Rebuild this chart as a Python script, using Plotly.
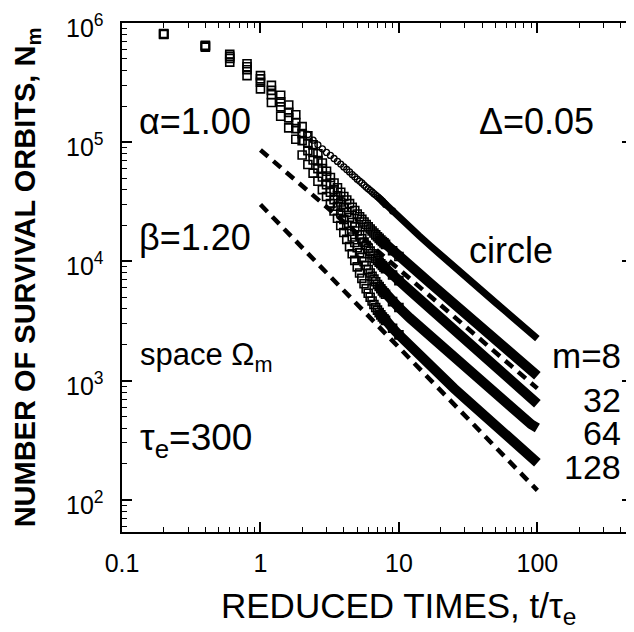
import math
import plotly.graph_objects as go

# ---- data ----
T = [0.2, 0.4, 0.6, 0.8, 1.0, 1.2, 1.4, 1.6, 1.8, 2.0,
     2.2, 2.4, 2.6, 2.8, 3.0, 3.2, 3.4, 3.6, 3.8, 4.0,
     4.2, 4.4, 4.6, 4.8, 5.0, 5.2, 5.4, 5.6, 5.8, 6.0,
     6.2, 6.4, 6.6, 6.8, 7.0, 7.2, 7.4, 7.6, 7.8, 8.0,
     9, 10, 12, 14, 17, 20, 25, 30, 40, 50, 60, 70, 80, 90, 100]

# number of survival orbits, in thousands
CIRCLE = [None, None, None, None, None, None, None, None, None, None,
          116, 104, 95, 88, 82, 77.5, 73, 69, 65.5, 62,
          59, 56.3, 53.5, 51.2, 49, 47.2, 45.5, 43.7, 42, 40.7,
          39.5, 38.2, 37, 36, 35, 34, 33, 32, 31, 30,
          26.5, 23.5, 19.3, 16.4, 13.4, 11.3, 9.0, 7.5, 5.6, 4.5, 3.75, 3.2, 2.8, 2.5, 2.25]
M8 = [815, 650, 545, 455, 362, 300, 248, 205, 170, 135,
      113, 95, 80, 67, 57, 50.5, 45.5, 41.5, 38, 35,
      32.7, 30.5, 28.5, 26.7, 25, 23.7, 22.5, 21.4, 20.4, 19.5,
      18.7, 18.0, 17.3, 16.7, 16.1, 15.6, 15.1, 14.7, 14.3, 13.9,
      12.3, 11.0, 9.2, 7.9, 6.5, 5.5, 4.4, 3.65, 2.75, 2.2, 1.84, 1.58, 1.38, 1.22, 1.1]
M32 = [810, 645, 525, 430, 340, 272, 218, 178, 146, 118,
       98, 82, 70, 60, 52, 45.5, 40, 35.5, 31.5, 28.5,
       25.8, 23.4, 21.2, 19.5, 18.0, 16.7, 15.5, 14.5, 13.6, 12.9,
       12.2, 11.6, 11.1, 10.6, 10.2, 9.85, 9.55, 9.25, 8.95, 8.7,
       7.7, 6.9, 5.7, 4.85, 3.95, 3.35, 2.65, 2.2, 1.64, 1.3, 1.08, 0.92, 0.80, 0.71, 0.64]
M64 = [805, 638, 505, 405, 318, 250, 198, 160, 130, 103,
       85, 71, 60, 51, 44, 38, 33, 29, 25.5, 22.5,
       20, 17.9, 16, 14.4, 13, 11.8, 10.8, 9.95, 9.2, 8.55,
       8.0, 7.5, 7.1, 6.75, 6.4, 6.15, 5.9, 5.65, 5.45, 5.3,
       4.6, 4.1, 3.35, 2.85, 2.33, 1.97, 1.57, 1.3, 0.97, 0.77, 0.64, 0.55, 0.48, 0.43, 0.40]
M128 = [800, 628, 470, 362, 280, 215, 165, 132, 106, 78,
        65, 55, 47, 40, 35, 30.5, 26.5, 23, 20, 17.5,
        15.3, 13.3, 11.6, 10.2, 9.0, 8.0, 7.2, 6.5, 5.9, 5.4,
        5.0, 4.65, 4.35, 4.1, 3.9, 3.72, 3.56, 3.42, 3.3, 3.2,
        2.75, 2.42, 1.95, 1.64, 1.32, 1.1, 0.86, 0.71, 0.52, 0.41, 0.335, 0.285, 0.25, 0.225, 0.205]

# power-law guides: t^-alpha (alpha=1.00) and t^-beta (beta=1.20)
ALPHA_T = [1, 100]
ALPHA_N = [86000, 860]
BETA_T = [1, 100]
BETA_N = [30000, 120]

X_TICKS = [0.1, 1, 10, 100]
X_TICKTEXT = ["0.1", "1", "10", "100"]
Y_TICKS = [1e2, 1e3, 1e4, 1e5, 1e6]
Y_TICKTEXT = ["10<sup>2</sup>", "10<sup>3</sup>", "10<sup>4</sup>", "10<sup>5</sup>", "10<sup>6</sup>"]

FONT = "Liberation Sans, Arial, sans-serif"

fig = go.Figure()


def pick(vals, lo, hi):
    pts = [(t, v * 1000) for t, v in zip(T, vals) if v is not None and lo <= t <= hi]
    return [p[0] for p in pts], [p[1] for p in pts]


for series in [M128, M64, M32, M8]:
    lt, ly = pick(series, 7.0, 1000)
    mt, my = pick(series, 0, 10)
    fig.add_trace(go.Scatter(x=lt, y=ly, mode="lines",
                             line=dict(color="black", width=10),
                             hoverinfo="skip", showlegend=False))
    fig.add_trace(go.Scatter(x=mt, y=my, mode="markers",
                             marker=dict(symbol="square-open", size=8, color="black",
                                         line=dict(width=1.6, color="black")),
                             showlegend=False))

clt, cly = pick(CIRCLE, 7.0, 1000)
cmt, cmy = pick(CIRCLE, 0, 9)
fig.add_trace(go.Scatter(x=clt, y=cly, mode="lines", line=dict(color="black", width=7),
                         showlegend=False))
fig.add_trace(go.Scatter(x=cmt, y=cmy, mode="markers",
                         marker=dict(symbol="circle-open", size=6, color="black",
                                     line=dict(width=1.3, color="black")),
                         showlegend=False))

for tx, ny in [(ALPHA_T, ALPHA_N), (BETA_T, BETA_N)]:
    fig.add_trace(go.Scatter(x=tx, y=ny, mode="lines",
                             line=dict(color="black", width=4.5, dash="10px,7px"),
                             showlegend=False))

# The page body adds an 8px offset; the figure is sized so that
# screen pixel = figure pixel + 8.
OFF = 8
W, H = 634 - OFF, 632 - OFF
# plot-area edges in screen pixels
L, R, TOP, BOT = 122, 634, 23, 532


def px(x):
    return (x - L) / (R - L)


def py(y):
    return (BOT - y) / (BOT - TOP)


def label(text, x, y, xanchor="center", size=36):
    fig.add_annotation(text=text, x=px(x), y=py(y), xref="paper", yref="paper",
                       xanchor=xanchor, yanchor="middle", showarrow=False,
                       font=dict(family=FONT, size=size, color="black"))


label("α=1.00", 195, 122)
label("Δ=0.05", 538, 122)
label("β=1.20", 195, 238)
label("circle", 513, 250)
label("space Ω<sub>m</sub>", 138, 357, xanchor="left", size=31)
label("τ<sub>e</sub>=300", 138, 440, xanchor="left", size=37)
label("m=8", 625, 355, xanchor="right", size=35)
label("32", 625, 400, xanchor="right", size=34)
label("64", 625, 433, xanchor="right", size=34)
label("128", 625, 467, xanchor="right", size=34)

# y tick labels placed at the axis' own tick values
for v, txt in zip(Y_TICKS, Y_TICKTEXT):
    fig.add_annotation(text=txt, x=px(106), xref="paper", y=math.log10(v), yref="y",
                       xanchor="right", yanchor="middle", yshift=-3, showarrow=False,
                       font=dict(family=FONT, size=25, color="black"))

fig.add_annotation(text="REDUCED TIMES, t/τ<sub>e</sub>", x=px(400), y=py(608),
                   xref="paper", yref="paper", xanchor="center", yanchor="middle",
                   showarrow=False, font=dict(family=FONT, size=35, color="black"))
fig.add_annotation(text="<b>NUMBER OF SURVIVAL ORBITS, N<sub>m</sub></b>", x=px(27), y=py(277),
                   xref="paper", yref="paper", xanchor="center", yanchor="middle",
                   textangle=-90, showarrow=False,
                   font=dict(family=FONT, size=29, color="black"))

axis_common = dict(type="log", showline=True, linecolor="black", linewidth=2,
                   mirror="allticks", ticks="inside", ticklen=10, tickwidth=1.5,
                   tickcolor="black", showgrid=False, zeroline=False,
                   tickfont=dict(family=FONT, size=25, color="black"),
                   minor=dict(ticks="inside", ticklen=5, tickwidth=1.3,
                              tickcolor="black", dtick="D1", showgrid=False))

fig.update_layout(
    width=W, height=H,
    margin=dict(l=L - OFF, r=634 - R, t=TOP - OFF, b=632 - BOT),
    paper_bgcolor="white", plot_bgcolor="white",
    showlegend=False,
    xaxis=dict(range=[-1, -1 + (R - L) / 139.0], tickvals=X_TICKS, ticktext=X_TICKTEXT,
               ticklabelstandoff=8, **axis_common),
    yaxis=dict(range=[6 - (BOT - TOP) / 119.2, 6], tickvals=Y_TICKS, ticktext=Y_TICKTEXT,
               showticklabels=False, **axis_common),
)

fig.write_html("out.html")
